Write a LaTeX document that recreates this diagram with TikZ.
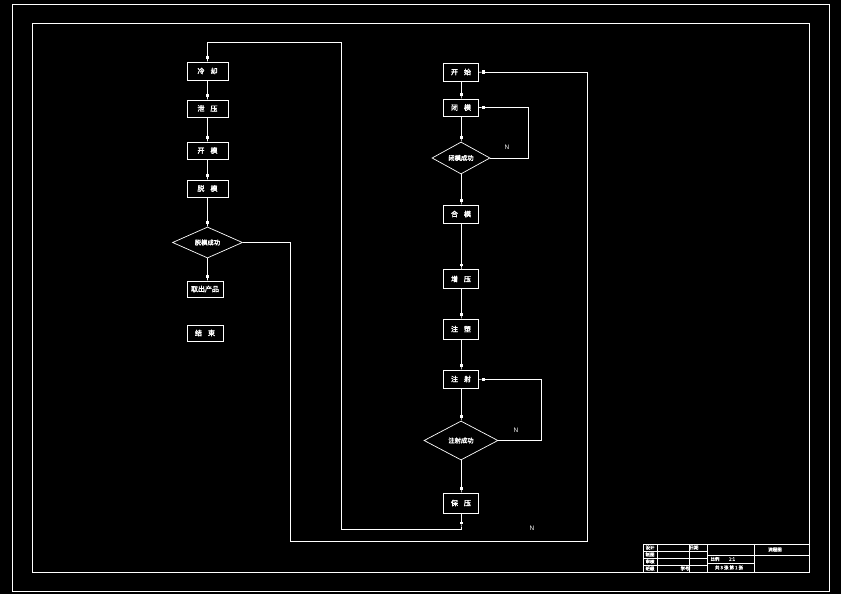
\documentclass[tikz,border=0pt]{standalone}
\usepackage{fontspec}
\newfontfamily\cjk[FakeBold=2.5]{Noto Sans CJK SC}
\setmainfont{Liberation Sans}
\usetikzlibrary{shapes.geometric,arrows.meta}
\begin{document}
\begin{tikzpicture}[x=1pt,y=-1pt,
  box/.style={draw=white, line width=0.7pt, minimum width=35pt, minimum height=18pt, inner sep=0pt, text=white, font=\cjk\fontsize{7}{7}\selectfont},
  dia/.style={diamond, draw=white, line width=0.7pt, inner sep=0pt, text=white, font=\cjk\fontsize{6.3}{7}\selectfont},
  wire/.style={draw=white, line width=0.7pt},
  arr/.style={wire, -{Rectangle[length=2.5pt,width=3pt,sep=0pt] Rectangle[length=3pt,width=0.7pt]}},
  lab/.style={text=white, font=\fontsize{6.5}{7}\selectfont, inner sep=0pt},
  tb/.style={text=white, font=\cjk\fontsize{4.5}{5}\selectfont, inner sep=0pt}]
\fill[black] (0,0) rectangle (841,594);
\useasboundingbox (0,0) rectangle (841,594);
% frames
\draw[wire] (12,4) rectangle (829,591);
\draw[wire] (32,23) rectangle (809,572);
% left column
\node[box, minimum width=41pt] (L1) at (207.5,71) {冷\hspace{6pt}却};
\node[box, minimum width=41pt, minimum height=17pt] (L2) at (207.5,108.5) {泄\hspace{6pt}压};
\node[box, minimum width=41pt, minimum height=17pt] (L3) at (207.5,150.5) {开\hspace{6pt}模};
\node[box, minimum width=41pt, minimum height=17pt] (L4) at (207.5,188.5) {脱\hspace{6pt}模};
\node[dia, minimum width=70pt, minimum height=29pt] (LD) at (207.5,242.5) {脱模成功};
\node[box, minimum width=36pt, minimum height=16pt] (L5) at (205,289) {取出产品};
\node[box, minimum width=36pt, minimum height=16pt] (L6) at (205,333) {结\hspace{6pt}束};
% right column
\node[box] (R1) at (461,72) {开\hspace{6pt}始};
\node[box, minimum height=17pt] (R2) at (461,107.5) {闭\hspace{6pt}模};
\node[dia, minimum width=58pt, minimum height=32pt] (RD1) at (461,158) {闭模成功};
\node[box] (R3) at (461,214) {合\hspace{6pt}模};
\node[box, minimum height=19pt] (R4) at (461,279) {增\hspace{6pt}压};
\node[box, minimum height=20pt] (R5) at (461,329) {注\hspace{6pt}塑};
\node[box] (R6) at (461,379) {注\hspace{6pt}射};
\node[dia, minimum width=74pt, minimum height=39pt] (RD2) at (461,440.5) {注射成功};
\node[box, minimum height=20pt] (R7) at (461,503) {保\hspace{6pt}压};
% left connectors
\draw[arr] (L1) -- (L2);
\draw[arr] (L2) -- (L3);
\draw[arr] (L3) -- (L4);
\draw[arr] (L4) -- (LD);
\draw[arr] (LD.south) -- (LD.south |- L5.north);
% right connectors
\draw[arr] (R1) -- (R2);
\draw[arr] (R2) -- (RD1);
\draw[arr] (RD1) -- (R3);
\draw[arr] (R3) -- (R4);
\draw[arr] (R4) -- (R5);
\draw[arr] (R5) -- (R6);
\draw[arr] (R6) -- (RD2);
\draw[arr] (RD2) -- (R7);
% loops
\coordinate (c1) at (528,158);
\draw[arr] (RD1.east) -- (c1) |- (R2.east);
\coordinate (c2) at (541,440.5);
\draw[arr] (RD2.east) -- (c2) |- (R6.east);
\coordinate (c3) at (461,529);
\coordinate (c3a) at (461,527);
\coordinate (c4) at (341,42);
\draw[arr] (R7.south) -- (c3a);
\draw[arr] (c3a) -- (c3) -| (c4) -| (L1.north);
\coordinate (c5) at (290,541);
\coordinate (c6) at (587,541);
\draw[arr] (LD.east) -| (c5) -- (c6) |- (R1.east);
% N labels
\node[lab] (N1) at (507,147) {N};
\node[lab] (N2) at (516,430) {N};
\node[lab] (N3) at (532,528) {N};
% title block
\draw[wire, line width=0.6pt] (643,544) rectangle (809,572);
\draw[wire, line width=0.6pt] (643,551) -- (707,551);
\draw[wire, line width=0.6pt] (643,558) -- (707,558);
\draw[wire, line width=0.6pt] (643,565) -- (707,565);
\draw[wire, line width=0.6pt] (707,555) -- (809,555);
\draw[wire, line width=0.6pt] (707,563) -- (754,563);
\draw[wire, line width=0.6pt] (657,544) -- (657,572);
\draw[wire, line width=0.6pt] (689,544) -- (689,572);
\draw[wire, line width=0.6pt] (707,544) -- (707,572);
\draw[wire, line width=0.6pt] (754,544) -- (754,572);
\node[tb] (t1) at (650,547.5) {设计};
\node[tb] (t2) at (650,554.5) {制图};
\node[tb] (t3) at (650,561.5) {审核};
\node[tb] (t4) at (650,568.5) {班级};
\node[tb] (t5) at (694,547.5) {日期};
\node[tb] (t6) at (685,568.5) {学号};
\node[tb] (t7) at (775,549.5) {流程图};
\node[tb] (t8) at (715,559) {比例};
\node[tb] (t9) at (732,559) {1:1};
\node[tb] (t10) at (729,567.5) {共 3 张 第 1 张};
\end{tikzpicture}
\end{document}
